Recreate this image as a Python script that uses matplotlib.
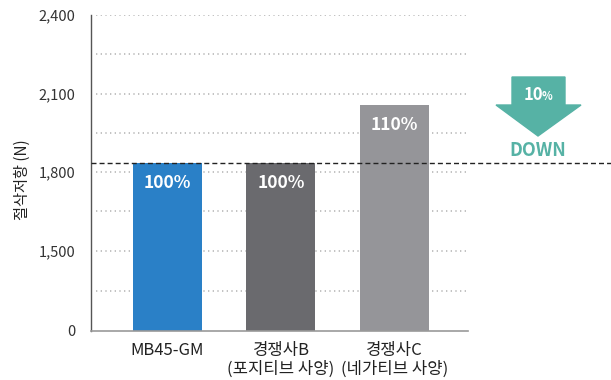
import numpy as np
import matplotlib.pyplot as plt
from matplotlib.patches import Polygon

plt.rcParams['font.family'] = ['Noto Sans CJK KR', 'DejaVu Sans']

# data
labels = ["MB45-GM", "경쟁사B\n(포지티브 사양)", "경쟁사C\n(네가티브 사양)"]
force = [1835, 1835, 2055]
percent = ["100%", "100%", "110%"]
colors = ["#2a80c7", "#6a6a6e", "#959599"]
yticks = [0, 1500, 1800, 2100, 2400]
grid_vals = [750, 1500, 1650, 1800, 1950, 2100, 2250, 2400]
baseline = 1835

# broken y scale: 0-1500 squeezed into a short band
BREAK = 1500
K = 0.2047


def fwd(v):
    v = np.asarray(v, dtype=float)
    return np.where(v <= BREAK, v * K, v - BREAK + BREAK * K)


def inv(u):
    u = np.asarray(u, dtype=float)
    return np.where(u <= BREAK * K, u / K, u + BREAK - BREAK * K)


fig = plt.figure(figsize=(6.11, 3.8), dpi=100)
ax = fig.add_axes([91 / 611, 49 / 380, 377 / 611, 316 / 380])
ax.set_yscale('function', functions=(fwd, inv))
ax.set_ylim(0, 2400)
ax.set_xlim(-0.674, 2.648)

x = np.arange(len(labels))
ax.hlines(grid_vals, -0.63, 2.648, colors="#b8b8b8", linewidth=1.2,
          linestyles=(0, (0.8, 2.0)), zorder=0)
ax.bar(x, force, width=0.608, color=colors, zorder=2)

for xi, v, p in zip(x, force, percent):
    ax.annotate(p, (xi, v), xytext=(0, -14.5), textcoords="offset points",
                ha="center", va="center", color="white",
                fontsize=12.5, fontweight="bold", zorder=3)

ax.axhline(baseline, xmin=0, xmax=520 / 377, color="#222222", linewidth=1,
           dashes=(3.6, 2.2), clip_on=False, zorder=4)

ax.set_yticks(yticks)
ax.set_yticklabels([f"{t:,}" for t in yticks])
ax.yaxis.set_minor_locator(plt.NullLocator())
ax.set_xticks(x)
ax.set_xticklabels(labels, linespacing=1.1)
ax.tick_params(axis="y", length=0, pad=11, labelsize=10.5, labelcolor="#333333")
ax.tick_params(axis="x", length=0, pad=8, labelsize=12, labelcolor="#222222")
for s in ("top", "right"):
    ax.spines[s].set_visible(False)
ax.spines["left"].set_color("#555555")
ax.spines["bottom"].set_color("#999999")
ax.spines["left"].set_linewidth(1)
ax.spines["bottom"].set_linewidth(1.2)

ax.set_ylabel("절삭저항 (N)", fontsize=11, color="#222222")
ax.yaxis.set_label_coords(-0.16, 0.48)

# "10% DOWN" arrow
teal = "#56b2a5"
W, H = 611, 380
pts = [(512, 77), (565, 77), (565, 105), (581, 105), (538, 136),
       (496, 105), (512, 105)]
fig.add_artist(Polygon([(px / W, 1 - py / H) for px, py in pts],
                       closed=True, color=teal, transform=fig.transFigure))
fig.text(533 / W, 1 - 95 / H, "10", ha="center", va="center", color="white",
         fontsize=12, fontweight="bold")
fig.text(547 / W, 1 - 97 / H, "%", ha="center", va="center", color="white",
         fontsize=8, fontweight="bold")
fig.text(538 / W, 1 - 150 / H, "DOWN", ha="center", va="center", color=teal,
         fontsize=13, fontweight="bold")

fig.savefig("out.png", dpi=100)
